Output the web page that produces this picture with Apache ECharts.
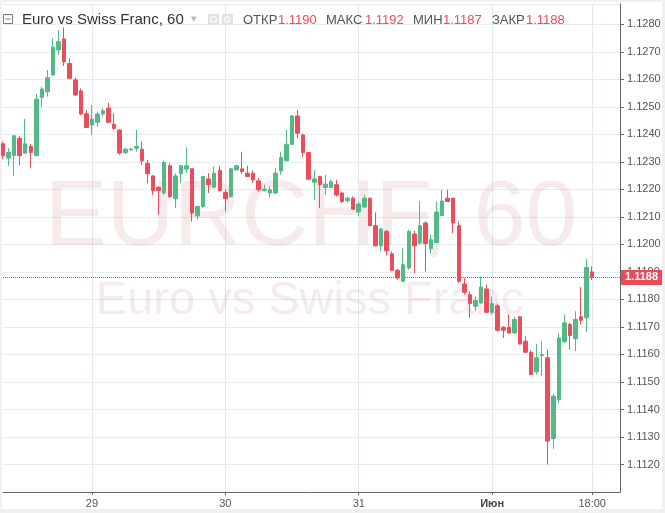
<!DOCTYPE html>
<html>
<head>
<meta charset="utf-8">
<script src="https://cdn.jsdelivr.net/npm/echarts@6/dist/echarts.min.js"></script>
<style>
html,body{margin:0;padding:0;background:#eef0f2;}
#chart{width:665px;height:513px;}
</style>
</head>
<body>
<div id="chart"></div>
<script>
// Hourly bars, EURCHF, 28 May 08:00 .. 1 June 18:00
const startDay = 28, startHour = 8, totalSlots = 112;
const open = [
1.12366,1.12314,1.12323,1.12386,1.12332,1.12356,1.12323,1.12534,1.12555,1.12616,
1.12707,1.12747,1.12658,1.12598,1.12558,1.12475,1.12434,1.12444,1.12474,1.12495,
1.12437,1.12416,1.12334,1.12344,1.12350,1.12346,1.12295,1.12249,1.12208,1.12187,
1.12286,1.12166,1.12257,1.12274,1.12275,1.12104,1.12138,1.12238,1.12208,1.12269,
1.12189,1.12174,1.12271,1.12275,1.12259,1.12259,1.12231,1.12196,1.12187,1.12187,
1.12267,1.12304,1.12364,1.12467,1.12398,1.12334,1.12226,1.12247,1.12207,1.12207,
1.12217,1.12187,1.12159,1.12168,1.12118,1.12136,1.12168,1.12068,1.11995,1.12047,
1.11966,1.11906,1.11866,1.11914,1.12038,1.12005,1.12078,1.11984,1.12007,1.12105,
1.12168,1.12168,1.12068,1.11856,1.11817,1.11775,1.11787,1.11838,1.11753,1.11777,
1.11699,1.11699,1.11678,1.11737,1.11648,1.11608,1.11537,1.11596,1.11588,1.11294,
1.11436,1.11646,1.11709,1.11657,1.11737,1.11733,1.11900];
const close = [
1.12322,1.12335,1.12395,1.12323,1.12366,1.12334,1.12528,1.12565,1.12606,1.12717,
1.12737,1.12664,1.12604,1.12543,1.12474,1.12425,1.12456,1.12474,1.12486,1.12444,
1.12422,1.12332,1.12346,1.12347,1.12356,1.12304,1.12257,1.12196,1.12196,1.12298,
1.12174,1.12249,1.12286,1.12286,1.12114,1.12138,1.12247,1.12217,1.12259,1.12196,
1.12166,1.12275,1.12286,1.12265,1.12247,1.12235,1.12199,1.12201,1.12199,1.12259,
1.12316,1.12364,1.12467,1.12404,1.12334,1.12237,1.12238,1.12217,1.12219,1.12228,
1.12180,1.12156,1.12168,1.12128,1.12147,1.12168,1.12068,1.11995,1.12056,1.11977,
1.11906,1.11878,1.11926,1.12047,1.11995,1.12068,1.12003,1.12017,1.12118,1.12158,
1.12156,1.12078,1.11866,1.11826,1.11785,1.11796,1.11845,1.11753,1.11785,1.11688,
1.11688,1.11678,1.11727,1.11638,1.11608,1.11527,1.11588,1.11600,1.11285,1.11448,
1.11660,1.11715,1.11669,1.11727,1.11724,1.11916,1.11880];
const low = [
1.12310,1.12286,1.12250,1.12287,1.12330,1.12277,1.12320,1.12499,1.12537,1.12613,
1.12689,1.12649,1.12602,1.12540,1.12471,1.12423,1.12398,1.12428,1.12465,1.12441,
1.12416,1.12326,1.12328,1.12340,1.12337,1.12289,1.12223,1.12180,1.12108,1.12180,
1.12169,1.12132,1.12223,1.12259,1.12083,1.12090,1.12133,1.12187,1.12205,1.12192,
1.12120,1.12170,1.12269,1.12257,1.12246,1.12223,1.12192,1.12192,1.12171,1.12183,
1.12253,1.12302,1.12362,1.12386,1.12319,1.12235,1.12162,1.12132,1.12180,1.12205,
1.12174,1.12150,1.12150,1.12126,1.12102,1.12133,1.12066,1.11993,1.11975,1.11960,
1.11902,1.11872,1.11863,1.11908,1.11896,1.11999,1.11902,1.11968,1.12005,1.12102,
1.12155,1.12041,1.11860,1.11817,1.11733,1.11757,1.11785,1.11751,1.11745,1.11684,
1.11660,1.11676,1.11676,1.11636,1.11606,1.11525,1.11527,1.11521,1.11200,1.11257,
1.11422,1.11642,1.11618,1.11612,1.11709,1.11681,1.11870];
const high = [
1.12374,1.12350,1.12398,1.12395,1.12456,1.12365,1.12547,1.12573,1.12634,1.12749,
1.12779,1.12789,1.12677,1.12607,1.12567,1.12489,1.12507,1.12483,1.12495,1.12515,
1.12477,1.12418,1.12352,1.12352,1.12416,1.12374,1.12307,1.12252,1.12211,1.12305,
1.12295,1.12259,1.12290,1.12353,1.12277,1.12140,1.12249,1.12259,1.12283,1.12286,
1.12199,1.12279,1.12290,1.12337,1.12286,1.12269,1.12241,1.12217,1.12211,1.12277,
1.12337,1.12416,1.12471,1.12489,1.12404,1.12337,1.12269,1.12249,1.12253,1.12235,
1.12235,1.12193,1.12174,1.12174,1.12156,1.12180,1.12170,1.12116,1.12060,1.12053,
1.11975,1.11911,1.11987,1.12053,1.12050,1.12158,1.12084,1.12035,1.12156,1.12198,
1.12199,1.12170,1.12084,1.11878,1.11829,1.11811,1.11884,1.11854,1.11811,1.11785,
1.11702,1.11745,1.11737,1.11739,1.11666,1.11615,1.11638,1.11648,1.11618,1.11458,
1.11678,1.11745,1.11715,1.11757,1.11845,1.11947,1.11920];
const tickLabels = {'29 00:00':'29','30 00:00':'30','31 00:00':'31','1 00:00':'{b|Июн}','1 18:00':'18:00'};
const yTicks = {min:1.1110, max:1.12874, step:0.001};
const header = {title:'Euro vs Swiss Franc, 60', o:'1.1190', h:'1.1192', l:'1.1187', c:'1.1188'};

const categories = [];
for (let i = 0; i < totalSlots; i++) {
  const t = startHour + i;
  let d = startDay + Math.floor(t / 24);
  if (d > 31) d -= 31;
  const hh = String(t % 24).padStart(2,'0');
  categories.push(d + ' ' + hh + ':00');
}
const data = open.map((o, i) => [o, close[i], low[i], high[i]]);
const lastClose = close[close.length - 1];
const isTick = (idx) => tickLabels[categories[idx]] !== undefined;

const UP = '#53b987', DOWN = '#eb4d5c', RED = '#e84c5b';
const FONT = 'Liberation Sans, Arial, sans-serif';
const WM = 'rgba(190,80,80,0.12)';

const chart = echarts.init(document.getElementById('chart'));
chart.setOption({
  animation: false,
  backgroundColor: '#eef0f2',
  textStyle: {fontFamily: FONT},
  graphic: [
    {type:'rect', z:-10, shape:{x:2,y:2,width:660,height:507}, style:{fill:'#ffffff'}, silent:true},
    {type:'text', z:1, style:{text:'EURCHF, 60', x:311, y:219, textAlign:'center', textVerticalAlign:'middle', font:'93px ' + FONT, fill:WM}, silent:true},
    {type:'text', z:1, style:{text:'Euro vs Swiss Franc', x:310, y:301, textAlign:'center', textVerticalAlign:'middle', font:'47px ' + FONT, fill:WM}, silent:true},
    // header
    {type:'rect', z:20, shape:{x:3.5,y:14.5,width:9,height:9}, style:{fill:'#fff', stroke:'#777', lineWidth:1}},
    {type:'line', z:21, shape:{x1:5.5,y1:19,x2:10.5,y2:19}, style:{stroke:'#777', lineWidth:1}},
    {type:'text', z:20, style:{text:header.title, x:22, y:20, textVerticalAlign:'middle', font:'15px ' + FONT, fill:'#333'}},
    {type:'text', z:20, style:{text:'▾', x:191, y:19, textVerticalAlign:'middle', font:'11px ' + FONT, fill:'#bbb'}},
    {type:'rect', z:20, shape:{x:208,y:14,width:11,height:11, r:1}, style:{fill:'#e2e2e2'}},
    {type:'circle', z:21, shape:{cx:213.5,cy:19.5,r:3}, style:{fill:'none', stroke:'#fff', lineWidth:1.2}},
    {type:'rect', z:20, shape:{x:222,y:14,width:11,height:11, r:1}, style:{fill:'#e2e2e2'}},
    {type:'text', z:21, style:{text:'⚙', x:227.5, y:20, textAlign:'center', textVerticalAlign:'middle', font:'10px DejaVu Sans', fill:'#fff'}},
    {type:'text', z:20, style:{text:'ОТКР', x:243, y:20, textVerticalAlign:'middle', font:'13px ' + FONT, fill:'#555'}},
    {type:'text', z:20, style:{text:header.o, x:278, y:20, textVerticalAlign:'middle', font:'13px ' + FONT, fill:RED}},
    {type:'text', z:20, style:{text:'МАКС', x:326, y:20, textVerticalAlign:'middle', font:'13px ' + FONT, fill:'#555'}},
    {type:'text', z:20, style:{text:header.h, x:365, y:20, textVerticalAlign:'middle', font:'13px ' + FONT, fill:RED}},
    {type:'text', z:20, style:{text:'МИН', x:413, y:20, textVerticalAlign:'middle', font:'13px ' + FONT, fill:'#555'}},
    {type:'text', z:20, style:{text:header.l, x:443, y:20, textVerticalAlign:'middle', font:'13px ' + FONT, fill:RED}},
    {type:'text', z:20, style:{text:'ЗАКР', x:492, y:20, textVerticalAlign:'middle', font:'13px ' + FONT, fill:'#555'}},
    {type:'text', z:20, style:{text:header.c, x:526, y:20, textVerticalAlign:'middle', font:'13px ' + FONT, fill:RED}}
  ],
  grid: {left:3, right:45, top:4, bottom:21},
  xAxis: {
    type:'category', data:categories, boundaryGap:false,
    axisLine:{lineStyle:{color:'#666', width:1}},
    axisTick:{show:true, interval:(i)=>isTick(i), length:3, lineStyle:{color:'#666'}},
    axisLabel:{interval:(i)=>isTick(i), formatter:(v)=>tickLabels[v] || '', color:'#555', fontSize:11, margin:6,
      rich:{b:{fontWeight:'bold', color:'#444', fontSize:11}}},
    splitLine:{show:true, interval:(i)=>isTick(i), lineStyle:{color:'#e2eaee'}}
  },
  yAxis: {
    type:'value', position:'right', min:yTicks.min, max:yTicks.max, interval:yTicks.step,
    axisLine:{show:true, lineStyle:{color:'#666', width:1}},
    axisTick:{show:true, length:4, lineStyle:{color:'#666'}},
    axisLabel:{formatter:(v)=>v.toFixed(4), color:'#555', fontSize:11, margin:7, showMinLabel:false, showMaxLabel:false},
    splitLine:{show:true, lineStyle:{color:'#e6ecef'}}
  },
  series: [{
    type:'candlestick', data:data, barWidth:4, z:5,
    itemStyle:{color:UP, color0:DOWN, borderColor:UP, borderColor0:DOWN, borderWidth:1}
  }, {
    type:'line', data:[], z:6, silent:true,
    markLine:{
      silent:true, symbol:['none','none'], animation:false, precision:5,
      lineStyle:{color:RED, type:'dotted', width:1},
      label:{show:true, position:'end', distance:1, formatter:()=>lastClose.toFixed(4), color:'#fff', backgroundColor:RED, padding:[2,4,2,4], fontSize:11, fontWeight:'bold'},
      emphasis:{disabled:true},
      data:[{yAxis:lastClose}]
    }
  }]
});
</script>
</body>
</html>
